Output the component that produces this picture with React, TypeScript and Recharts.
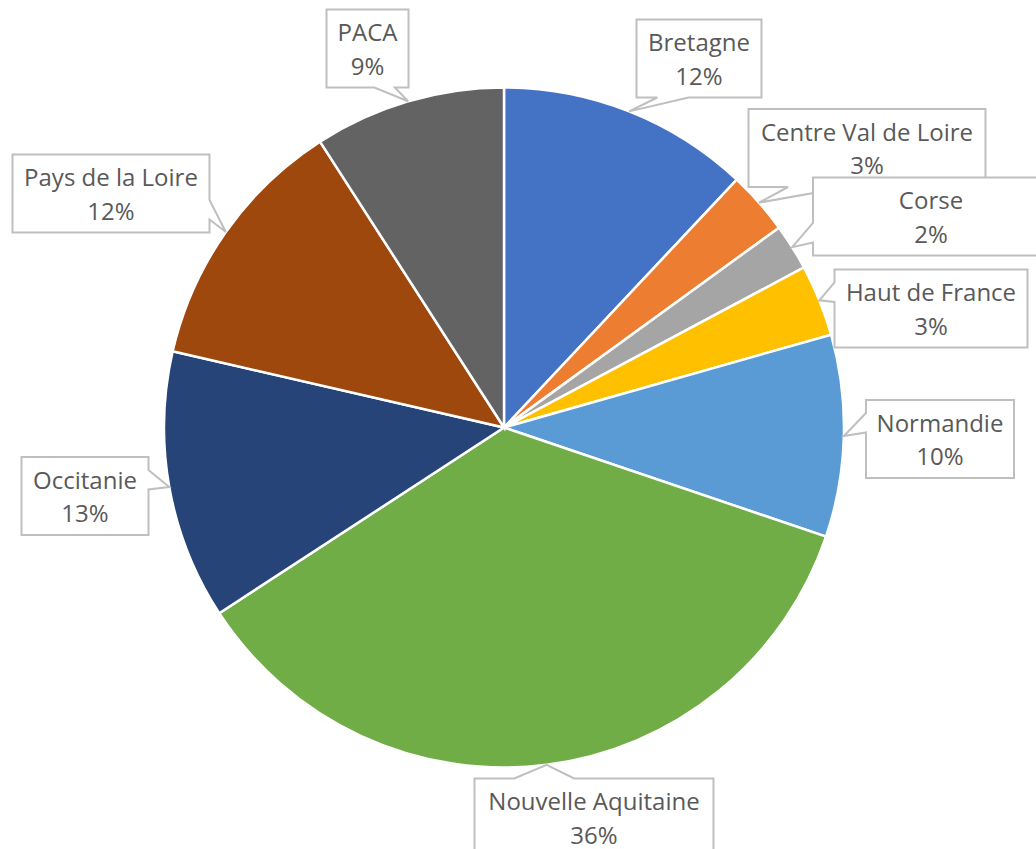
import { PieChart, Pie, Cell } from 'recharts';

const REGIONS = [
  'Bretagne',
  'Centre Val de Loire',
  'Corse',
  'Haut de France',
  'Normandie',
  'Nouvelle Aquitaine',
  'Occitanie',
  'Pays de la Loire',
  'PACA',
];

// parts en %
const SHARES = [12.0, 3.0, 2.2, 3.4, 9.6, 35.6, 12.8, 12.3, 9.1];

const COLORS = [
  '#4472C4',
  '#ED7D31',
  '#A5A5A5',
  '#FFC000',
  '#5B9BD5',
  '#70AD47',
  '#264478',
  '#9E480E',
  '#636363',
];

// centre des bulles par rapport au centre du camembert, et largeur des bulles
const LABEL_BOXES = [
  { dx: 195, dy: -369, w: 125 },
  { dx: 363, dy: -279.5, w: 237 },
  { dx: 427, dy: -211, w: 236 },
  { dx: 427, dy: -119, w: 193 },
  { dx: 436, dy: 11.5, w: 148 },
  { dx: 90, dy: 390, w: 239 },
  { dx: -419, dy: 68.5, w: 127 },
  { dx: -393, dy: -234, w: 197 },
  { dx: -136.5, dy: -379, w: 82 },
];

const BOX_H = 78;
const RADIAN = Math.PI / 180;

const data = REGIONS.map((name, i) => ({ name, value: SHARES[i] }));

// bulle façon "wedgeRectCallout" d'Excel
function calloutPath(bx: number, by: number, w: number, h: number, tx: number, ty: number) {
  const l = bx - w / 2;
  const r = bx + w / 2;
  const t = by - h / 2;
  const b = by + h / 2;
  const dxPos = tx - bx;
  const dyPos = ty - by;
  const adx = Math.abs((dxPos * h) / w);
  const ady = Math.abs(dyPos);
  const x1 = l + (w * (dxPos > 0 ? 7 : 2)) / 12;
  const x2 = l + (w * (dxPos > 0 ? 10 : 5)) / 12;
  const y1 = t + (h * (dyPos > 0 ? 7 : 2)) / 12;
  const y2 = t + (h * (dyPos > 0 ? 10 : 5)) / 12;
  const vertical = ady > adx;
  let d = `M${l},${t}`;
  if (vertical && dyPos < 0) d += ` L${x1},${t} L${tx},${ty} L${x2},${t}`;
  d += ` L${r},${t}`;
  if (!vertical && dxPos > 0) d += ` L${r},${y1} L${tx},${ty} L${r},${y2}`;
  d += ` L${r},${b}`;
  if (vertical && dyPos > 0) d += ` L${x2},${b} L${tx},${ty} L${x1},${b}`;
  d += ` L${l},${b}`;
  if (!vertical && dxPos < 0) d += ` L${l},${y2} L${tx},${ty} L${l},${y1}`;
  return d + ' Z';
}

const renderCallout = ({ cx, cy, midAngle, outerRadius, percent, index, name }: any) => {
  const box = LABEL_BOXES[index];
  const tx = cx + outerRadius * Math.cos(-midAngle * RADIAN);
  const ty = cy + outerRadius * Math.sin(-midAngle * RADIAN);
  const bx = cx + box.dx;
  const by = cy + box.dy;
  return (
    <g key={`callout-${index}`}>
      <path
        d={calloutPath(bx, by, box.w, BOX_H, tx, ty)}
        fill="#fff"
        stroke="#BFBFBF"
        strokeWidth={2}
      />
      <text
        x={bx}
        textAnchor="middle"
        fontFamily="'Open Sans', sans-serif"
        fontSize={24}
        fill="#595959"
      >
        <tspan x={bx} y={by - 7.5}>{name}</tspan>
        <tspan x={bx} y={by + 26}>{`${Math.round(percent * 100)}%`}</tspan>
      </text>
    </g>
  );
};

export default function App() {
  return (
    <div style={{ position: 'absolute', left: 0, top: 0, width: 1036, height: 849, background: '#fff' }}>
      <PieChart width={1036} height={849} margin={{ top: 0, right: 0, bottom: 0, left: 0 }}>
        <Pie
          data={data}
          dataKey="value"
          nameKey="name"
          cx={504}
          cy={427.5}
          outerRadius={340}
          startAngle={90}
          endAngle={-270}
          stroke="#fff"
          strokeWidth={2.5}
          labelLine={false}
          label={renderCallout}
          isAnimationActive={false}
        >
          {data.map((entry, index) => (
            <Cell key={`cell-${index}`} fill={COLORS[index]} />
          ))}
        </Pie>
      </PieChart>
    </div>
  );
}
